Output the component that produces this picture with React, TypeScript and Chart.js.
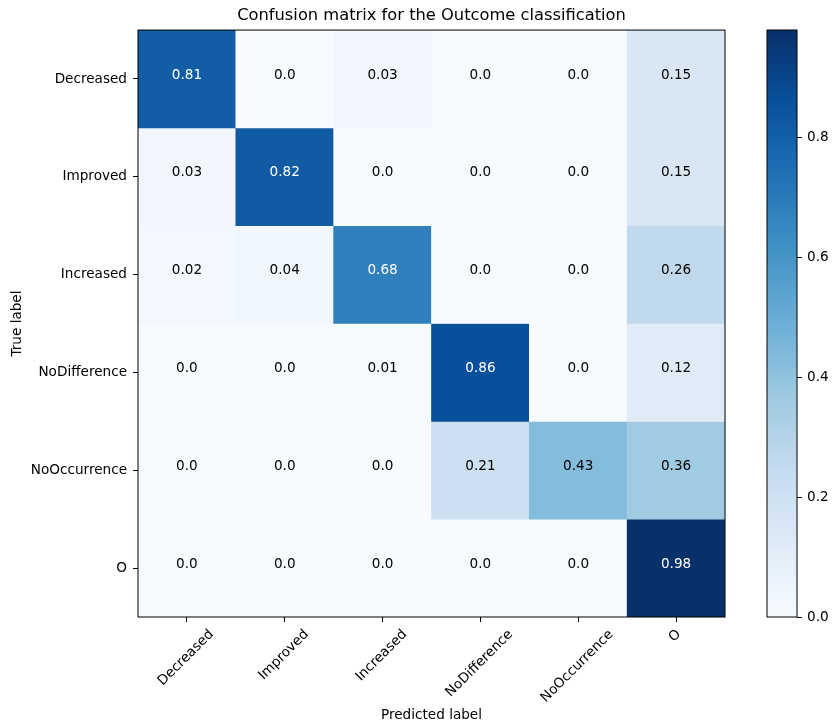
import React, { useEffect, useRef } from 'react';
import { Chart, registerables } from 'chart.js';

Chart.register(...registerables);

const FONT = "'DejaVu Sans', sans-serif";
const LABEL_SIZE = 13.6;
const TITLE_SIZE = 16.3;

const predictedLabels = ['Decreased', 'Improved', 'Increased', 'NoDifference', 'NoOccurrence', 'O'];
const trueLabels = ['Decreased', 'Improved', 'Increased', 'NoDifference', 'NoOccurrence', 'O'];

const rowDecreased = [0.81, 0.0, 0.03, 0.0, 0.0, 0.15];
const rowImproved = [0.03, 0.82, 0.0, 0.0, 0.0, 0.15];
const rowIncreased = [0.02, 0.04, 0.68, 0.0, 0.0, 0.26];
const rowNoDifference = [0.0, 0.0, 0.01, 0.86, 0.0, 0.12];
const rowNoOccurrence = [0.0, 0.0, 0.0, 0.21, 0.43, 0.36];
const rowO = [0.0, 0.0, 0.0, 0.0, 0.0, 0.98];

const matrix = [rowDecreased, rowImproved, rowIncreased, rowNoDifference, rowNoOccurrence, rowO];

const colorbarTicks = [0.0, 0.2, 0.4, 0.6, 0.8];
const colorMin = 0.0;
const colorMax = 0.98;

const TITLE = 'Confusion matrix for the Outcome classification';

const BLUES = ['#f7fbff', '#deebf7', '#c6dbef', '#9ecae1', '#6baed6', '#4292c6', '#2171b5', '#08519c', '#08306b'];

function hexToRgb(h: string) {
  const n = parseInt(h.slice(1), 16);
  return [(n >> 16) & 255, (n >> 8) & 255, n & 255];
}

function blues(t: number) {
  const tt = Math.max(0, Math.min(1, t));
  const p = tt * (BLUES.length - 1);
  const i = Math.min(Math.floor(p), BLUES.length - 2);
  const f = p - i;
  const a = hexToRgb(BLUES[i]);
  const b = hexToRgb(BLUES[i + 1]);
  const c = a.map((v, k) => Math.round(v + (b[k] - v) * f));
  return `rgb(${c[0]},${c[1]},${c[2]})`;
}

function fmt(v: number) {
  return Number.isInteger(v) ? v.toFixed(1) : String(v);
}

export default function App() {
  const mainRef = useRef<HTMLCanvasElement>(null);
  const cbRef = useRef<HTMLCanvasElement>(null);

  useEffect(() => {
    if (!mainRef.current || !cbRef.current) return;
    const thresh = Math.max(...matrix.map((r) => Math.max(...r))) / 2;

    const mainChart = new Chart(mainRef.current, {
      type: 'bar',
      data: {
        labels: predictedLabels,
        datasets: matrix.map((row, i) => ({
          label: trueLabels[i],
          data: row.map(() => 1),
          backgroundColor: row.map((v) => blues((v - colorMin) / (colorMax - colorMin))),
          borderWidth: 0,
          barPercentage: 1,
          categoryPercentage: 1,
        })),
      },
      options: {
        animation: false,
        responsive: false,
        maintainAspectRatio: false,
        layout: { padding: { top: 0, right: 20, left: 0, bottom: 0 } },
        plugins: {
          legend: { display: false },
          tooltip: { enabled: false },
          title: {
            display: true,
            text: TITLE,
            fullSize: false,
            color: '#000',
            font: { family: FONT, size: TITLE_SIZE, weight: 'normal', lineHeight: 1.2 },
            padding: { top: 6, bottom: 4.5 },
          },
        },
        scales: {
          x: {
            type: 'category',
            stacked: true,
            offset: true,
            grid: { offset: false, drawOnChartArea: false, drawTicks: true, tickLength: 5, color: '#000' },
            border: { display: false },
            ticks: { display: false },
            title: {
              display: true,
              text: 'Predicted label',
              color: '#000',
              font: { family: FONT, size: LABEL_SIZE },
              padding: { top: 0, bottom: 2 },
            },
            afterFit: (s: any) => {
              s.height = 109;
            },
          },
          y: {
            type: 'linear',
            stacked: true,
            reverse: true,
            min: 0,
            max: trueLabels.length,
            afterBuildTicks: (s: any) => {
              s.ticks = trueLabels.map((_, i) => ({ value: i + 0.5 }));
            },
            ticks: {
              autoSkip: false,
              callback: (_v: any, i: number) => trueLabels[i],
              color: '#000',
              font: { family: FONT, size: LABEL_SIZE },
              padding: 6,
            },
            grid: { drawOnChartArea: false, drawTicks: true, tickLength: 5, color: '#000' },
            border: { display: false },
            title: {
              display: true,
              text: 'True label',
              color: '#000',
              font: { family: FONT, size: LABEL_SIZE },
              padding: { top: 9, bottom: 0 },
            },
            afterFit: (s: any) => {
              s.width = 138;
            },
          },
        },
      },
      plugins: [
        {
          id: 'cmDecor',
          afterDatasetsDraw(chart: any) {
            const { ctx } = chart;
            const x = chart.scales.x;
            const y = chart.scales.y;
            ctx.save();
            ctx.font = `${LABEL_SIZE}px ${FONT}`;
            ctx.textAlign = 'center';
            ctx.textBaseline = 'middle';
            matrix.forEach((row, i) =>
              row.forEach((v, j) => {
                ctx.fillStyle = v > thresh ? '#ffffff' : '#000000';
                ctx.fillText(fmt(v), x.getPixelForValue(j), y.getPixelForValue(i + 0.5) - 4);
              })
            );
            ctx.restore();
          },
          afterDraw(chart: any) {
            const { ctx, chartArea: a } = chart;
            const x = chart.scales.x;
            ctx.save();
            ctx.strokeStyle = '#000';
            ctx.lineWidth = 1;
            ctx.strokeRect(a.left, a.top, a.right - a.left, a.bottom - a.top);
            ctx.font = `${LABEL_SIZE}px ${FONT}`;
            ctx.fillStyle = '#000';
            ctx.textAlign = 'center';
            ctx.textBaseline = 'middle';
            predictedLabels.forEach((lab, j) => {
              const px = x.getPixelForTick(j);
              const w = ctx.measureText(lab).width;
              const h = 12;
              const bh = (w + h) * Math.SQRT1_2;
              const cy = a.bottom + 5 + 6 + bh / 2;
              ctx.save();
              ctx.translate(px - 1, cy);
              ctx.rotate(-Math.PI / 4);
              ctx.fillText(lab, 0, 0);
              ctx.restore();
            });
            ctx.restore();
          },
        },
      ],
    } as any);

    const cbChart = new Chart(cbRef.current, {
      type: 'bar',
      data: {
        labels: ['colorbar'],
        datasets: [
          {
            data: [[colorMin, colorMax]],
            backgroundColor: (c: any) => {
              const chart = c.chart;
              if (!chart.chartArea) return BLUES[0];
              const ys = chart.scales.y;
              const g = chart.ctx.createLinearGradient(0, ys.getPixelForValue(colorMin), 0, ys.getPixelForValue(colorMax));
              BLUES.forEach((col, k) => g.addColorStop(k / (BLUES.length - 1), col));
              return g;
            },
            borderWidth: 0,
            barPercentage: 1,
            categoryPercentage: 1,
          },
        ],
      },
      options: {
        animation: false,
        responsive: false,
        maintainAspectRatio: false,
        layout: { padding: { left: 27, top: 30, bottom: 109, right: 0 } },
        plugins: { legend: { display: false }, tooltip: { enabled: false } },
        scales: {
          x: { display: false },
          y: {
            position: 'right',
            min: colorMin,
            max: colorMax,
            afterBuildTicks: (s: any) => {
              s.ticks = colorbarTicks.map((v) => ({ value: v }));
            },
            ticks: {
              autoSkip: false,
              callback: (v: any) => Number(v).toFixed(1),
              color: '#000',
              font: { family: FONT, size: LABEL_SIZE },
              padding: 5,
            },
            grid: { drawOnChartArea: false, drawTicks: true, tickLength: 5, color: '#000' },
            border: { display: false },
            afterFit: (s: any) => {
              s.width = 35;
            },
          },
        },
      },
      plugins: [
        {
          id: 'cbBorder',
          afterDraw(chart: any) {
            const { ctx, chartArea: a } = chart;
            ctx.save();
            ctx.strokeStyle = '#000';
            ctx.lineWidth = 1;
            ctx.strokeRect(a.left, a.top, a.right - a.left, a.bottom - a.top);
            ctx.restore();
          },
        },
      ],
    } as any);

    return () => {
      mainChart.destroy();
      cbChart.destroy();
    };
  }, []);

  return (
    <div style={{ position: 'absolute', left: 0, top: 0, width: 832, height: 726, background: '#fff' }}>
      <canvas
        ref={mainRef}
        width={745}
        height={726}
        style={{ position: 'absolute', left: 0, top: 0, width: 745, height: 726 }}
      />
      <canvas
        ref={cbRef}
        width={92}
        height={726}
        style={{ position: 'absolute', left: 740, top: 0, width: 92, height: 726 }}
      />
    </div>
  );
}
